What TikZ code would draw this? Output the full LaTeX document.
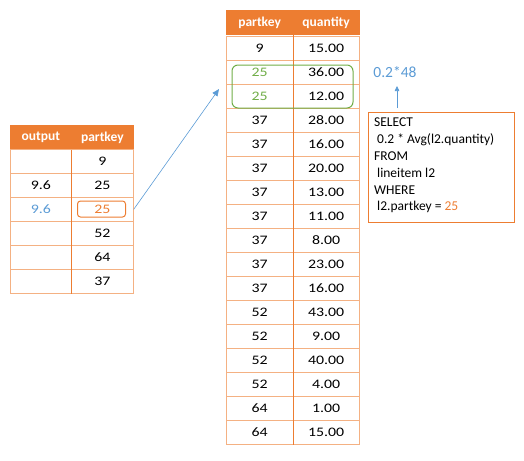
\documentclass[tikz,border=0pt]{standalone}
\usepackage{fontspec}
\setmainfont{Carlito}
\newfontfamily\tabfont{Carlito}[FakeStretch=1.22]
\usetikzlibrary{arrows.meta}
\definecolor{hdr}{HTML}{ED7D31}
\definecolor{gridc}{HTML}{F4B183}
\definecolor{grn}{HTML}{70AD47}
\definecolor{blu}{HTML}{5B9BD5}
\begin{document}
\begin{tikzpicture}[x=1pt,y=-1pt,
  cell/.style={font=\tabfont\fontsize{13}{15}\selectfont, draw=gridc, line width=0.7pt, minimum height=24pt, inner sep=0pt, anchor=north west, text=black},
  hcell/.style={cell, fill=hdr, draw=hdr, text=white, font=\fontsize{13.5}{15}\selectfont\bfseries},
  link/.style={draw=blu, line width=0.6pt, -{Triangle[length=7pt,width=6pt]}},
]
\useasboundingbox (0,0) rectangle (524,460);

% ---------- left table ----------
\node[hcell, minimum width=61pt] (Lh1) at (10,125) {output};
\node[hcell, minimum width=62pt] (Lh2) at (71,125) {partkey};
\foreach \a/\b [count=\i] in {{}/9, 9.6/25, {\textcolor{blu}{9.6}}/{\textcolor{hdr}{25}}, {}/52, {}/64, {}/37}{
  \node[cell, minimum width=61pt] (La\i) at (10,{125+24*\i}) {\a};
  \node[cell, minimum width=62pt] (Lb\i) at (71,{125+24*\i}) {\b};
}
\draw[hdr, line width=0.7pt] (Lh1.south east) -- (La6.south east);

% ---------- right table ----------
\node[hcell, minimum width=66.5pt] (Rh1) at (226,10) {partkey};
\node[hcell, minimum width=66.5pt] (Rh2) at (292.5,10) {quantity};
\foreach \a/\b [count=\i] in {9/15.00, {\textcolor{grn}{25}}/36.00, {\textcolor{grn}{25}}/12.00,
  37/28.00, 37/16.00, 37/20.00, 37/13.00, 37/11.00, 37/8.00, 37/23.00, 37/16.00,
  52/43.00, 52/9.00, 52/40.00, 52/4.00, 64/1.00, 64/15.00}{
  \node[cell, minimum width=66.5pt] (Ra\i) at (226,{10+24*(\i-1)+26}) {\a};
  \node[cell, minimum width=66.5pt] (Rb\i) at (292.5,{10+24*(\i-1)+26}) {\b};
}
\draw[hdr, line width=0.7pt] (Rh1.south east) -- (Ra17.south east);

% highlight boxes
\node[draw=grn, line width=1pt, rounded corners=6pt, minimum width=121pt, minimum height=43pt, inner sep=0pt] (gbox) at (292.5,86.5) {};
\node[draw=hdr, line width=1pt, rounded corners=3pt, minimum width=48pt, minimum height=16pt, inner sep=0pt] (obox) at (101.5,209) {};

% arrow to right table
\coordinate (tip) at (219,89);
\draw[link] (Lb3.east) -- (tip);

% SQL box
\node[draw=hdr, line width=0.6pt, minimum width=146pt, minimum height=110pt, inner sep=0pt, anchor=north west] (sql) at (368,112) {};
\node[anchor=north west, align=left, inner sep=0pt, font=\fontsize{13.5}{16.8}\selectfont] (sqltext) at (374,118) {SELECT\\
\hspace{3pt}0.2 * Avg(l2.quantity)\\
FROM\\
\hspace{3pt}lineitem l2\\
WHERE\\
\hspace{3pt}l2.partkey = \textcolor{hdr}{25}};

% result
\node[text=blu, font=\fontsize{15.5}{17}\selectfont, inner sep=0pt] (res) at (395,72) {0.2*48};
\coordinate (up0) at (397,108);
\coordinate (up1) at (397,86);
\draw[link, -{Triangle[length=5pt,width=4.5pt]}] (up0) -- (up1);
\end{tikzpicture}
\end{document}
